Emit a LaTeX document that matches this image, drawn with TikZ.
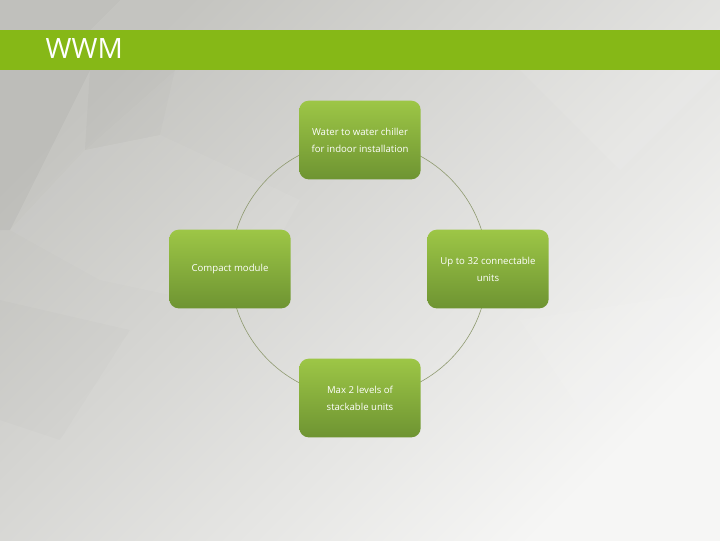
\documentclass[tikz,border=0pt]{standalone}
\usepackage{fontspec}
\setmainfont{Open Sans}
\usetikzlibrary{positioning}
\definecolor{bannergreen}{HTML}{86B817}
\definecolor{boxtop}{HTML}{9DC646}
\definecolor{boxbot}{HTML}{6E9432}
\definecolor{ringcol}{HTML}{8F9A70}
\definecolor{bgdark}{HTML}{C4C4C0}
\definecolor{bglight}{HTML}{F6F6F5}
\begin{document}
\begin{tikzpicture}[x=0.75pt,y=-0.75pt,
  every node/.style={font=\fontsize{7.2}{12.8}\selectfont, text=white},
  cyclebox/.style={rectangle, rounded corners=7pt, top color=boxtop,
                   bottom color=boxbot, minimum width=91pt,
                   minimum height=59pt, align=center, inner sep=2pt},
  ring/.style={draw=ringcol, line width=0.45pt},
  facet/.style={fill=black, fill opacity=#1},
  glint/.style={fill=white, fill opacity=#1}
]
  % background
  \useasboundingbox (0,0) rectangle (720,540);
  \shade[top color=bgdark, bottom color=bglight, shading angle=45] (0,0) rectangle (720,540);
  \fill[facet=0.035] (0,70) -- (90,70) -- (10,230) -- (0,230) -- cycle;
  \fill[facet=0.025] (90,70) -- (175,70) -- (85,150) -- cycle;
  \fill[facet=0.012] (175,70) -- (160,135) -- (85,150) -- cycle;
  \fill[glint=0.05] (10,230) -- (85,150) -- (160,135) -- (100,280) -- cycle;
  \fill[facet=0.02] (0,0) -- (120,0) -- (90,30) -- (0,30) -- cycle;
  \fill[glint=0.08] (520,70) -- (720,70) -- (620,170) -- cycle;
  \fill[glint=0.05] (160,135) -- (300,200) -- (240,310) -- (100,280) -- cycle;
  \fill[facet=0.012] (0,300) -- (130,330) -- (60,440) -- (0,420) -- cycle;
  \fill[glint=0.07] (520,320) -- (720,290) -- (720,470) -- (600,440) -- cycle;
  % title banner
  \fill[bannergreen] (0,30) rectangle (720,70);
  \node[font=\fontsize{21}{21}\selectfont, anchor=west] (title) at (41,49) {WWM};
  % cycle
  \coordinate (centre) at (359,269);
  \draw[ring] (centre) circle[radius=128.5];
  \node[cyclebox] (chiller) at (360,140) {Water to water chiller\\for indoor installation};
  \node[cyclebox] (compact) at (230,269) {Compact module};
  \node[cyclebox] (units) at (488,269) {Up to 32 connectable\\units};
  \node[cyclebox] (levels) at (360,398) {Max 2 levels of\\stackable units};
\end{tikzpicture}
\end{document}
